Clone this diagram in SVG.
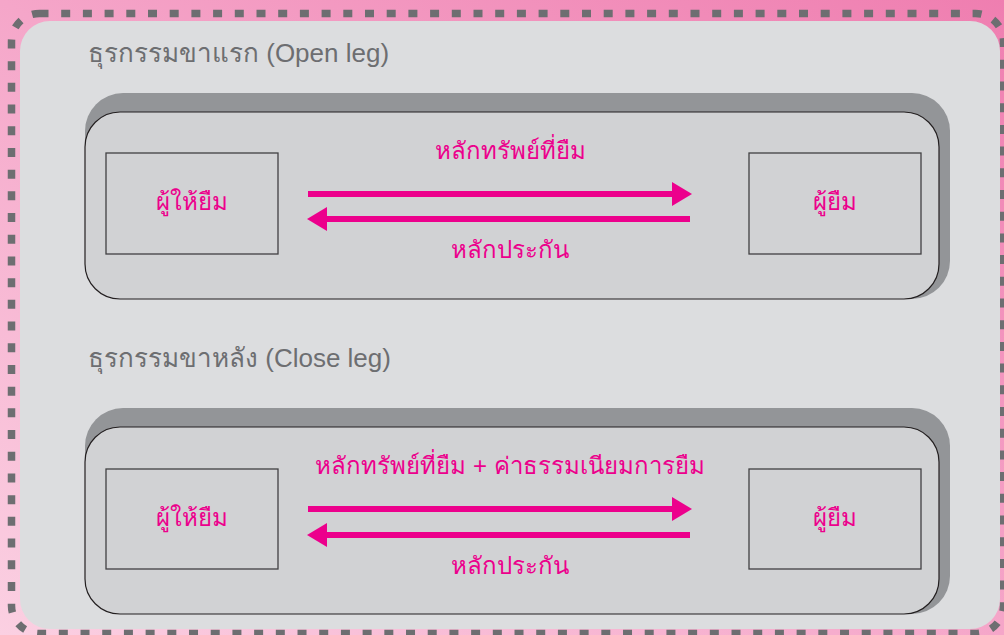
<svg xmlns="http://www.w3.org/2000/svg" width="1004" height="635" viewBox="0 0 1004 635">
  <defs>
    <linearGradient id="bg" x1="0" y1="1" x2="1" y2="0">
      <stop offset="0" stop-color="#fbd0e2"/>
      <stop offset="0.5" stop-color="#f5a6c9"/>
      <stop offset="1" stop-color="#ef7eb0"/>
    </linearGradient>
    <marker id="head" markerUnits="userSpaceOnUse" markerWidth="20" markerHeight="24" refX="0" refY="12" orient="auto" viewBox="0 0 20 24">
      <path d="M0,0 L20,12 L0,24 Z" fill="#ec008c"/>
    </marker>
    <style>
      .title { font-family: "Liberation Sans", "Noto Sans", sans-serif; font-size: 26px; fill: #6d6e71; }
      .lbl { font-family: "Liberation Sans", "Noto Sans", sans-serif; font-size: 24px; fill: #ec008c; text-anchor: middle; }
      .shadow { fill: #939598; }
      .panel { fill: #d1d2d4; stroke: #231f20; stroke-width: 1.2; }
      .box { fill: none; stroke: #414042; stroke-width: 1.3; }
      .arrow { stroke: #ec008c; stroke-width: 6; fill: none; marker-end: url(#head); }
    </style>
  </defs>

  <rect x="0" y="0" width="1004" height="635" fill="url(#bg)"/>
  <rect x="11.5" y="13.5" width="992" height="620" rx="28" fill="none" stroke="#6d6e71" stroke-width="7.5" stroke-dasharray="9 12.7"/>
  <rect x="20" y="21" width="980" height="608" rx="30" fill="#dcdddf"/>

  <text class="title" x="88" y="62">ธุรกรรมขาแรก (Open leg)</text>
  <text class="title" x="88" y="367">ธุรกรรมขาหลัง (Close leg)</text>

  <g id="panel-open">
    <rect class="shadow" x="85" y="93" width="865" height="206" rx="38"/>
    <rect class="panel" x="85" y="112" width="854" height="187" rx="35"/>
  </g>
  <g id="panel-close">
    <rect class="shadow" x="85" y="408" width="865" height="206" rx="38"/>
    <rect class="panel" x="85" y="427" width="854" height="187" rx="35"/>
  </g>

  <g id="lender-open">
    <rect class="box" x="106" y="153" width="172" height="101"/>
    <text class="lbl" x="192" y="210">ผู้ให้ยืม</text>
  </g>
  <g id="borrower-open">
    <rect class="box" x="749" y="153" width="172" height="101"/>
    <text class="lbl" x="835" y="210">ผู้ยืม</text>
  </g>
  <g id="lender-close">
    <rect class="box" x="106" y="469" width="172" height="100"/>
    <text class="lbl" x="192" y="526">ผู้ให้ยืม</text>
  </g>
  <g id="borrower-close">
    <rect class="box" x="749" y="469" width="172" height="100"/>
    <text class="lbl" x="835" y="526">ผู้ยืม</text>
  </g>

  <g id="connectors">
    <line class="arrow" x1="308" y1="194" x2="672" y2="194"/>
    <line class="arrow" x1="690" y1="219" x2="327" y2="219"/>
    <line class="arrow" x1="308" y1="509" x2="672" y2="509"/>
    <line class="arrow" x1="690" y1="535" x2="327" y2="535"/>
    <text class="lbl" x="510" y="159">หลักทรัพย์ที่ยืม</text>
    <text class="lbl" x="510" y="258">หลักประกัน</text>
    <text class="lbl" x="510" y="474">หลักทรัพย์ที่ยืม + ค่าธรรมเนียมการยืม</text>
    <text class="lbl" x="510" y="574">หลักประกัน</text>
  </g>
</svg>
